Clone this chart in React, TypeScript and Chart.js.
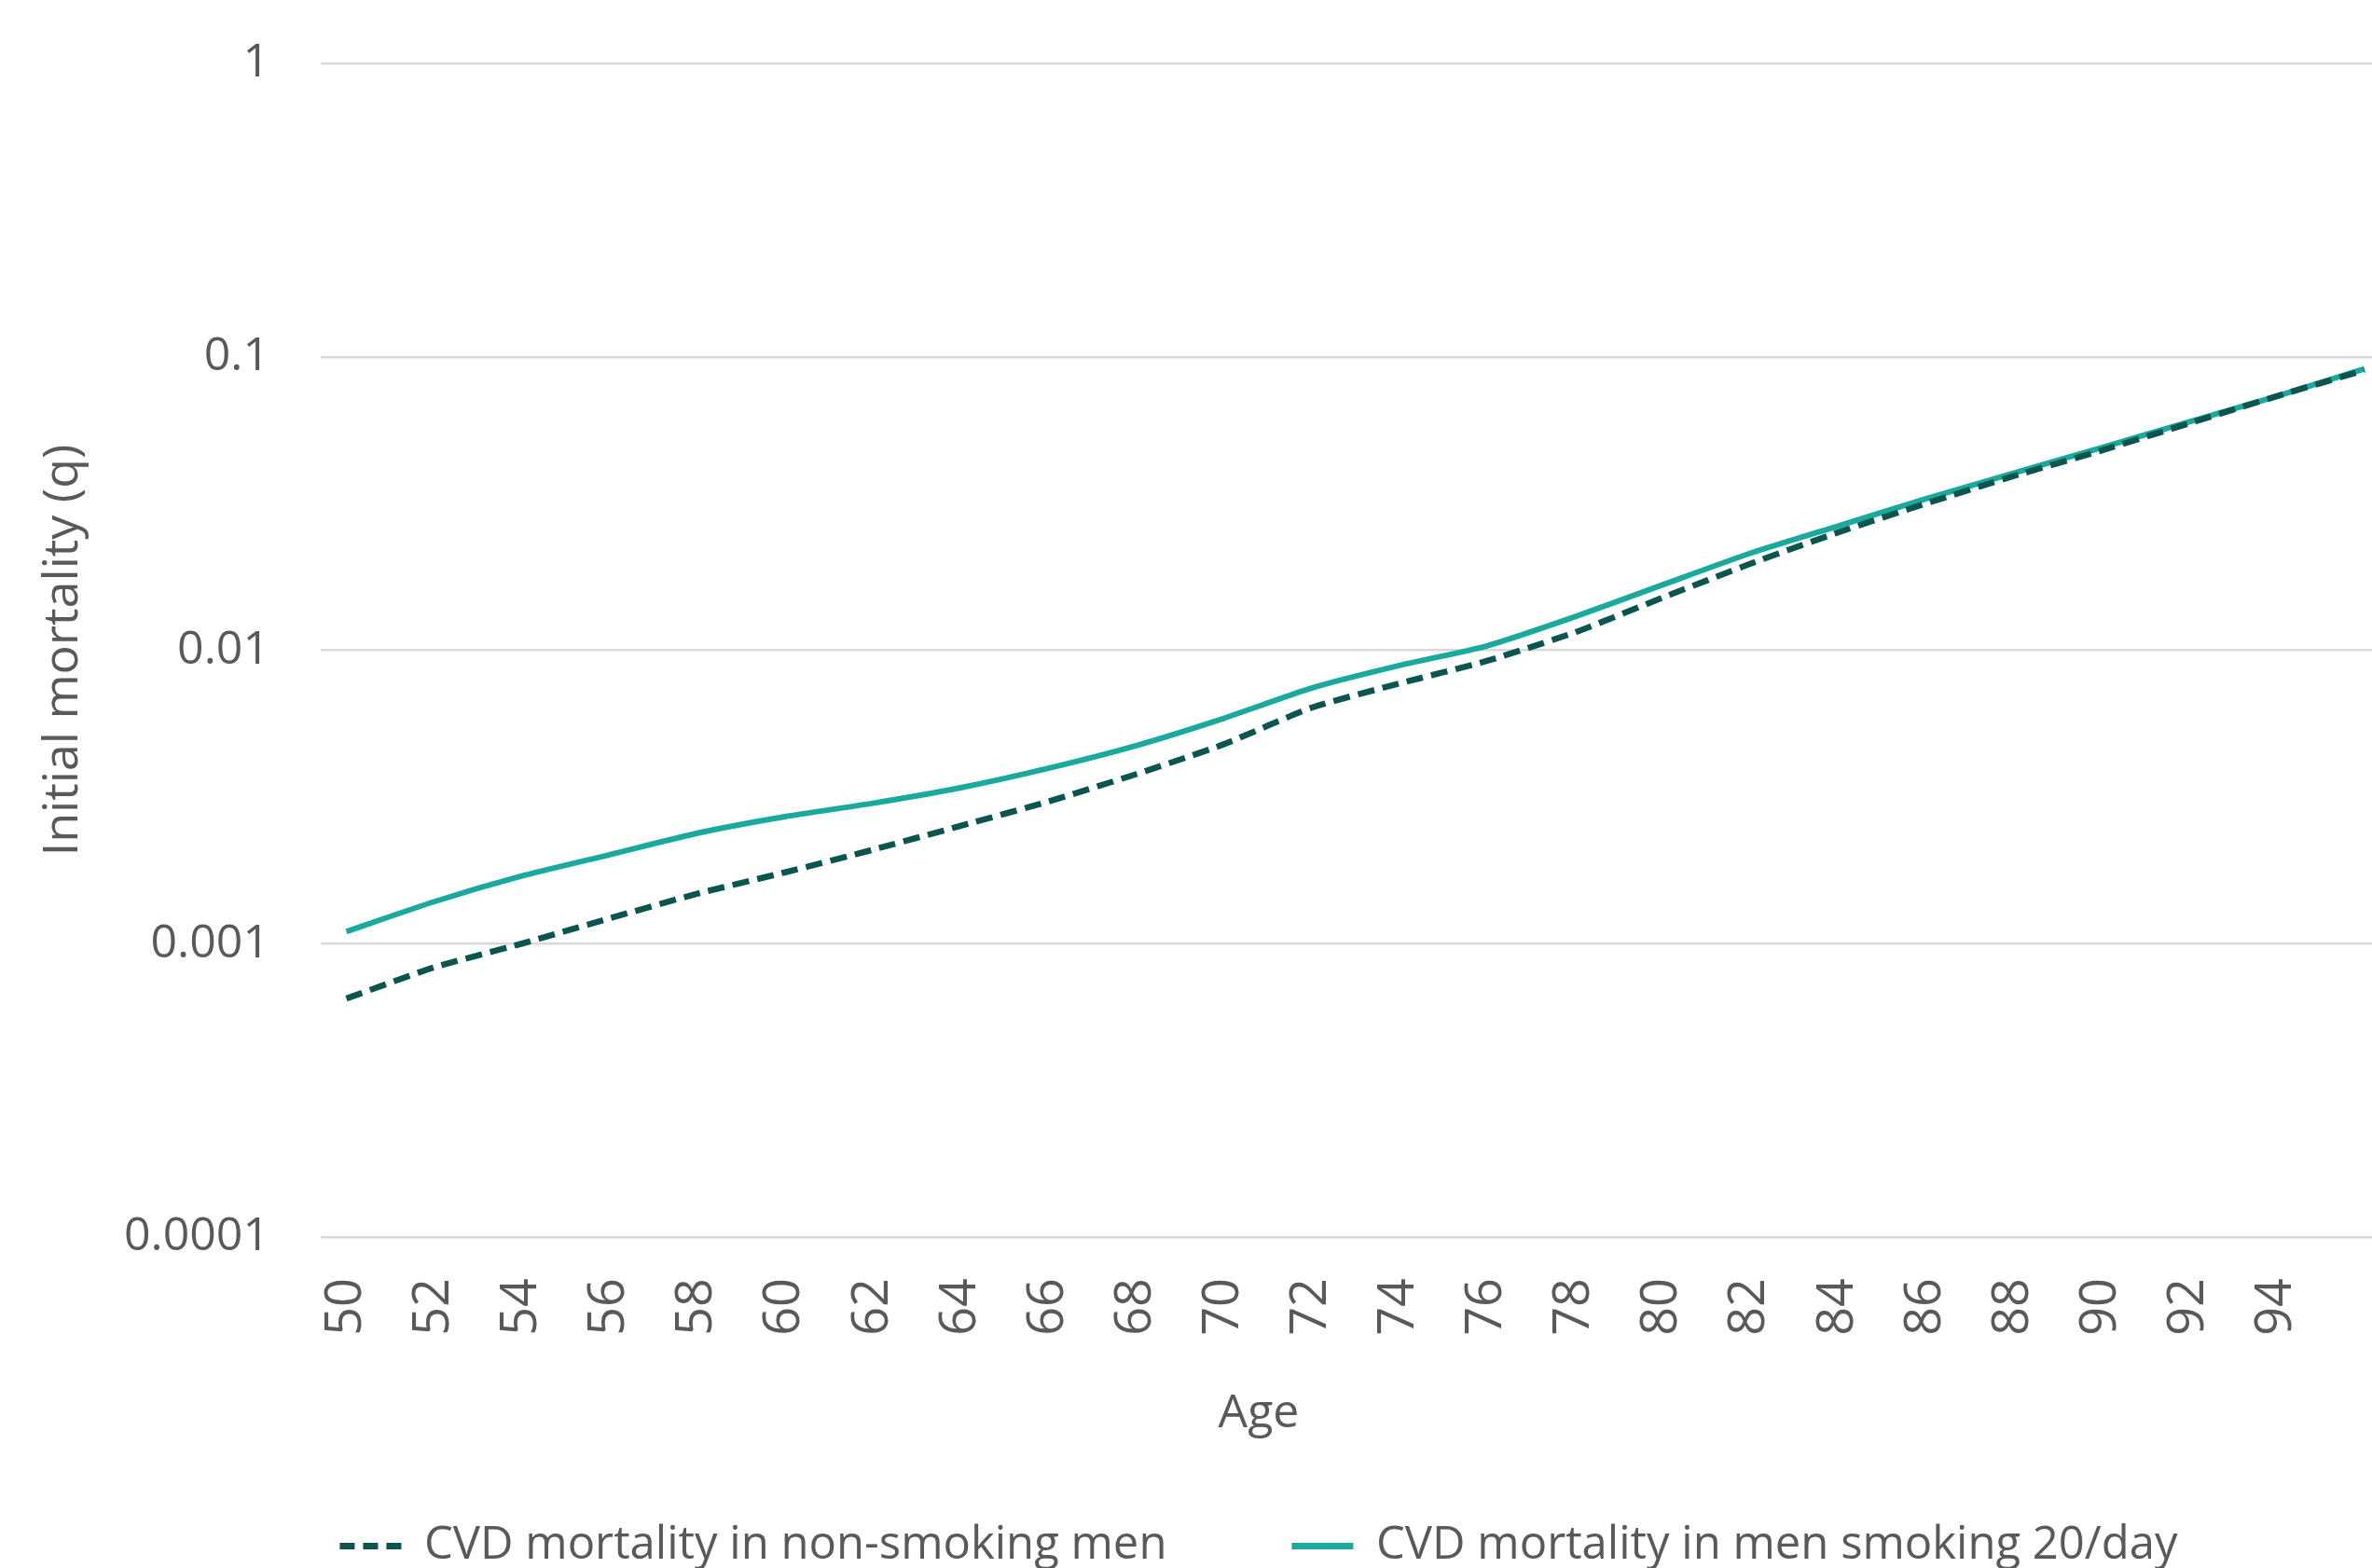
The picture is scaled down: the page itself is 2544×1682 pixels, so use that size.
import { useEffect, useRef } from 'react';
import { Chart, registerables } from 'chart.js';

Chart.register(...registerables);

const ages = [50, 52, 54, 56, 58, 60, 62, 64, 66, 68, 70, 72, 74, 76, 78, 80, 82, 84, 86, 88, 90, 92, 94, 96];
const nonSmokingMen = [0.00065, 0.00083, 0.001, 0.00122, 0.00148, 0.00175, 0.00209, 0.00252, 0.00305, 0.00378, 0.00478, 0.00637, 0.0077, 0.0092, 0.0115, 0.0151, 0.0197, 0.0252, 0.0316, 0.0392, 0.0479, 0.0593, 0.0734, 0.09];
const menSmoking20 = [0.0011, 0.00139, 0.0017, 0.00201, 0.00238, 0.00271, 0.00301, 0.0034, 0.00396, 0.00473, 0.00586, 0.00743, 0.00887, 0.01035, 0.013, 0.0167, 0.0214, 0.0265, 0.0328, 0.0401, 0.049, 0.06, 0.0734, 0.091];
const xTickValues = [50, 52, 54, 56, 58, 60, 62, 64, 66, 68, 70, 72, 74, 76, 78, 80, 82, 84, 86, 88, 90, 92, 94];
const yTickValues = [0.0001, 0.001, 0.01, 0.1, 1];
const yTickLabels = ['0.0001', '0.001', '0.01', '0.1', '1'];
const seriesLabels = ['CVD mortality in non-smoking men', 'CVD mortality in men smoking 20/day'];
const xTitle = 'Age';
const yTitle = 'Initial mortality (q)';

const TEXT = '#595959';
const DARK = '#0B5550';
const TEAL = '#19A99D';

export default function App() {
  const ref = useRef<HTMLCanvasElement>(null);

  useEffect(() => {
    const canvas = ref.current;
    if (!canvas) return;
    Chart.defaults.font.family = "'Open Sans', sans-serif";
    Chart.defaults.color = TEXT;
    const chart = new Chart(canvas, {
      type: 'line',
      data: {
        datasets: [
          {
            label: seriesLabels[0],
            data: ages.map((a, i) => ({ x: a, y: nonSmokingMen[i] })),
            borderColor: DARK,
            backgroundColor: DARK,
            borderWidth: 6.5,
            borderDash: [18, 9],
            pointRadius: 0,
            tension: 0.2,
            fill: false,
          },
          {
            label: seriesLabels[1],
            data: ages.map((a, i) => ({ x: a, y: menSmoking20[i] })),
            borderColor: TEAL,
            backgroundColor: TEAL,
            borderWidth: 6,
            pointRadius: 0,
            tension: 0.2,
            fill: false,
          },
        ],
      },
      options: {
        responsive: false,
        animation: false,
        devicePixelRatio: 1,
        layout: { padding: { top: 68, left: 0, right: 0, bottom: 0 } },
        plugins: {
          legend: {
            position: 'bottom',
            weight: 1000,
            labels: {
              usePointStyle: true,
              pointStyle: 'line',
              pointStyleWidth: 66,
              padding: 134,
              color: TEXT,
              font: { size: 49 },
              generateLabels: (c: any) =>
                c.data.datasets.map((ds: any, i: number) => ({
                  text: ds.label,
                  datasetIndex: i,
                  fillStyle: ds.borderColor,
                  strokeStyle: ds.borderColor,
                  lineWidth: 7,
                  lineDash: ds.borderDash ? [16, 9] : [],
                  lineCap: 'butt',
                  pointStyle: 'line',
                  hidden: false,
                  fontColor: TEXT,
                })),
            },
          },
          title: {
            display: true,
            text: xTitle,
            position: 'bottom',
            weight: 500,
            color: TEXT,
            font: { size: 50, weight: 'normal', lineHeight: 1.2 },
            padding: { top: -13, bottom: -47 },
          },
          tooltip: { enabled: false },
        },
        scales: {
          x: {
            type: 'linear',
            min: 49.415,
            max: 99.49,
            grid: { display: false },
            border: { display: false },
            afterBuildTicks: (s: any) => {
              s.ticks = xTickValues.map((v) => ({ value: v }));
            },
            afterFit: (s: any) => {
              s.height = 173;
            },
            ticks: {
              autoSkip: false,
              minRotation: 90,
              maxRotation: 90,
              padding: 36,
              color: TEXT,
              font: { size: 54 },
              callback: (v: any) => String(v),
            },
          },
          y: {
            type: 'logarithmic',
            min: 0.0001,
            max: 1,
            afterBuildTicks: (s: any) => {
              s.ticks = yTickValues.map((v) => ({ value: v }));
            },
            afterFit: (s: any) => {
              s.width = 344;
              s.paddingTop = 30;
              s.paddingBottom = 30;
            },
            grid: { color: '#D9D9D9', lineWidth: 2.5, drawTicks: false },
            border: { display: false },
            ticks: {
              padding: 55,
              color: TEXT,
              font: { size: 50 },
              callback: (v: any) => {
                const i = yTickValues.indexOf(Number(v));
                return i >= 0 ? yTickLabels[i] : '';
              },
            },
            title: {
              display: true,
              text: yTitle,
              color: TEXT,
              font: { size: 52 },
              padding: { top: 37, bottom: 0 },
            },
          },
        },
      },
    });
    return () => chart.destroy();
  }, []);

  return (
    <div style={{ position: 'absolute', left: 0, top: 0, width: 2544, height: 1682, overflow: 'hidden', background: '#ffffff' }}>
      <canvas ref={ref} width={2700} height={1693} style={{ display: 'block' }} />
    </div>
  );
}
